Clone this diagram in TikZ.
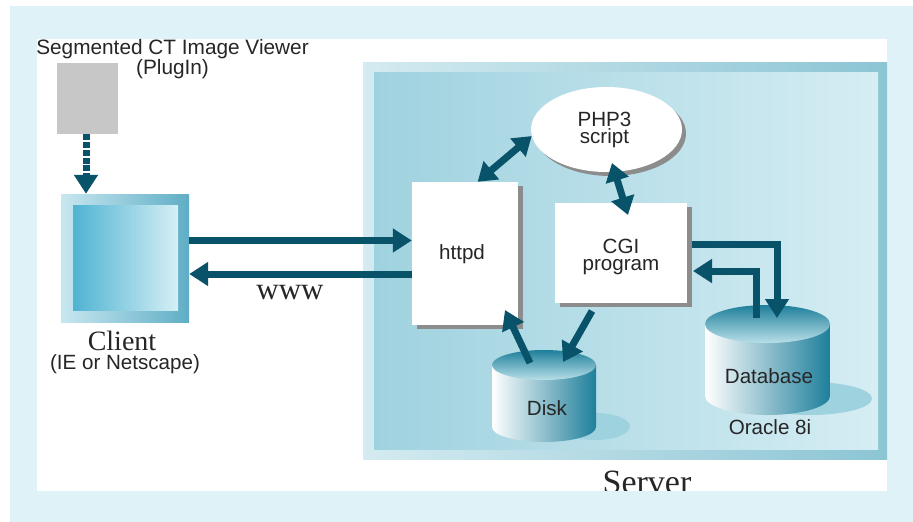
\documentclass[tikz,border=0pt]{standalone}
\usepackage{fontspec}
\setmainfont{Liberation Sans}
\newfontfamily\titlefont{Liberation Serif}
\usetikzlibrary{arrows.meta,shapes.geometric,shadows}
\definecolor{pagebg}{HTML}{DFF2F7}
\definecolor{flowcol}{HTML}{08526A}
\definecolor{shadowcol}{HTML}{8C8C8C}
\definecolor{floorcol}{HTML}{9FD2DF}
\definecolor{framedark}{HTML}{8CC5D4}
\definecolor{screenleft}{HTML}{4FB3D2}
\definecolor{screenright}{HTML}{D6EFF5}
\definecolor{rimleft}{HTML}{C8E7F0}
\definecolor{rimright}{HTML}{5FAEC6}
\definecolor{drumdark}{HTML}{1E7F9B}
\definecolor{drummid}{HTML}{8CC4D2}
\definecolor{lidlight}{HTML}{B8DFE8}
\tikzset{%
    flow/.style={%
        draw=flowcol, line width=7pt, -{Triangle[length=19pt,width=23pt]}
    },
    flow_both/.style={%
        draw=flowcol, line width=7pt, {Triangle[length=18pt,width=23pt]}-{Triangle[length=18pt,width=23pt]}
    },
    flow_dashed/.style={%
        flow, dash pattern=on 6pt off 1.8pt
    },
    panel/.style={%
        rectangle, inner sep=0pt, draw=none
    },
    white_box/.style={%
        rectangle, inner sep=0pt, fill=white,
        drop shadow={shadow xshift=5pt, shadow yshift=-4pt, fill=shadowcol, opacity=1}
    },
    script_box/.style={%
        ellipse, inner sep=0pt, fill=white,
        drop shadow={shadow xshift=4pt, shadow yshift=-4pt, fill=shadowcol, opacity=1}
    },
    txt/.style={%
        font=\fontsize{20.6}{17}\selectfont, align=center, inner sep=0pt, text=black!85
    },
}
% cylinder: centre x, top centre y, bottom centre y, x radius, y radius
\newcommand{\drumbody}[5]{%
    \shade[left color=white, middle color=drummid, right color=drumdark]
      (#1-#4,#2) -- (#1-#4,#3) arc[start angle=180, end angle=360, x radius=#4pt, y radius=#5pt] -- (#1+#4,#2) -- cycle;
    \shade[top color=drumdark, bottom color=lidlight]
      (#1,#2) ellipse[x radius=#4pt, y radius=#5pt];
}
\begin{document}
\begin{tikzpicture}[x=1pt,y=-1pt]
      \useasboundingbox (0,0) rectangle (913,522);
      \node[panel, fill=pagebg, minimum width=903pt, minimum height=516pt] (page) at (461.5,264) {};
      \node[panel, fill=white, minimum width=850pt, minimum height=452pt] (sheet) at (462,265) {};

      % client side
      \node[panel, fill=black!22, minimum width=61pt, minimum height=71pt] (plugin) at (87.5,98.5) {};
      \node[txt, font=\fontsize{20.8}{19}\selectfont] (viewer) at (172.5,59) {Segmented CT Image Viewer\\(PlugIn)};
      \node[panel, left color=rimleft, right color=rimright, minimum width=128pt, minimum height=128pt] (client_frame) at (125,258) {};
      \node[panel, left color=screenleft, right color=screenright, minimum width=105pt, minimum height=105pt] (client) at (125.5,257.5) {};
      \node[txt, font=\titlefont\fontsize{28}{28}\selectfont] (client_name) at (122,341) {Client};
      \node[txt] (client_note) at (125,364) {(IE or Netscape)};

      % server side
      \node[panel, left color=floorcol!45!white, right color=framedark, minimum width=524pt, minimum height=397pt] (server_frame) at (625,260.5) {};
      \node[panel, left color=floorcol, right color=pagebg!85!floorcol, minimum width=504pt, minimum height=377pt] (server) at (626,260.5) {};
      \node[txt, font=\titlefont\fontsize{34}{34}\selectfont] (server_name) at (647,482) {Server};
      \node[panel, fill=pagebg, minimum width=903pt, minimum height=31pt] (strip) at (461.5,506.5) {};

      \node[white_box, minimum width=106pt, minimum height=143pt] (httpd) at (465,253.5) {};
      \node[txt] (httpd_name) at (462,254) {httpd};
      \node[white_box, minimum width=132pt, minimum height=100pt] (cgi) at (621,253) {};
      \node[txt] (cgi_name) at (621,257) {CGI\\program};
      \node[script_box, minimum width=151pt, minimum height=85pt] (php) at (606.5,129.5) {};
      \node[txt] (php_name) at (604.5,130) {PHP3\\script};

      % floor shadows, then the two drums
      \fill[floorcol] (595,426.5) ellipse[x radius=35pt, y radius=13.5pt];
      \fill[floorcol] (810,398.5) ellipse[x radius=62pt, y radius=16.5pt];
      \drumbody{544}{365}{427}{52}{15}
      \drumbody{767.5}{324}{396}{62.5}{19}
      \node[txt] (disk) at (547,408) {Disk};
      \node[txt] (database) at (769,376) {Database};
      \node[txt] (oracle) at (770,427) {Oracle 8i};

      \coordinate (php_in) at (612,163);
      \coordinate (cgi_in) at (628,215);
      \coordinate (cgi_top) at (692,244);
      \coordinate (cgi_back) at (693,271);
      \coordinate (cgi_out) at (592,311);
      \coordinate (db_in) at (777,318);
      \coordinate (db_out) at (756,318);
      \coordinate (disk_in) at (563,362);
      \coordinate (disk_out) at (530,363);
      \coordinate (httpd_in) at (505,310);

      \draw[flow_dashed] (plugin.south -| 86,0) -- (client_frame.north -| 86,0);
      \draw[flow] (client_frame.east |- 0,240.5) -- (httpd.west |- 0,240.5);
      \draw[flow] (httpd.west |- 0,274) -- (client_frame.east |- 0,274);
      \node[txt, font=\titlefont\fontsize{31}{31}\selectfont] (www) at (290,293) {www};
      \draw[flow_both] (httpd.80) -- (php.185);
      \draw[flow_both] (php_in) -- (cgi_in);
      \draw[flow] (cgi_top) -| (db_in);
      \draw[flow] (db_out) |- (cgi_back);
      \draw[flow] (cgi_out) -- (disk_in);
      \draw[flow] (disk_out) -- (httpd_in);
\end{tikzpicture}
\end{document}
